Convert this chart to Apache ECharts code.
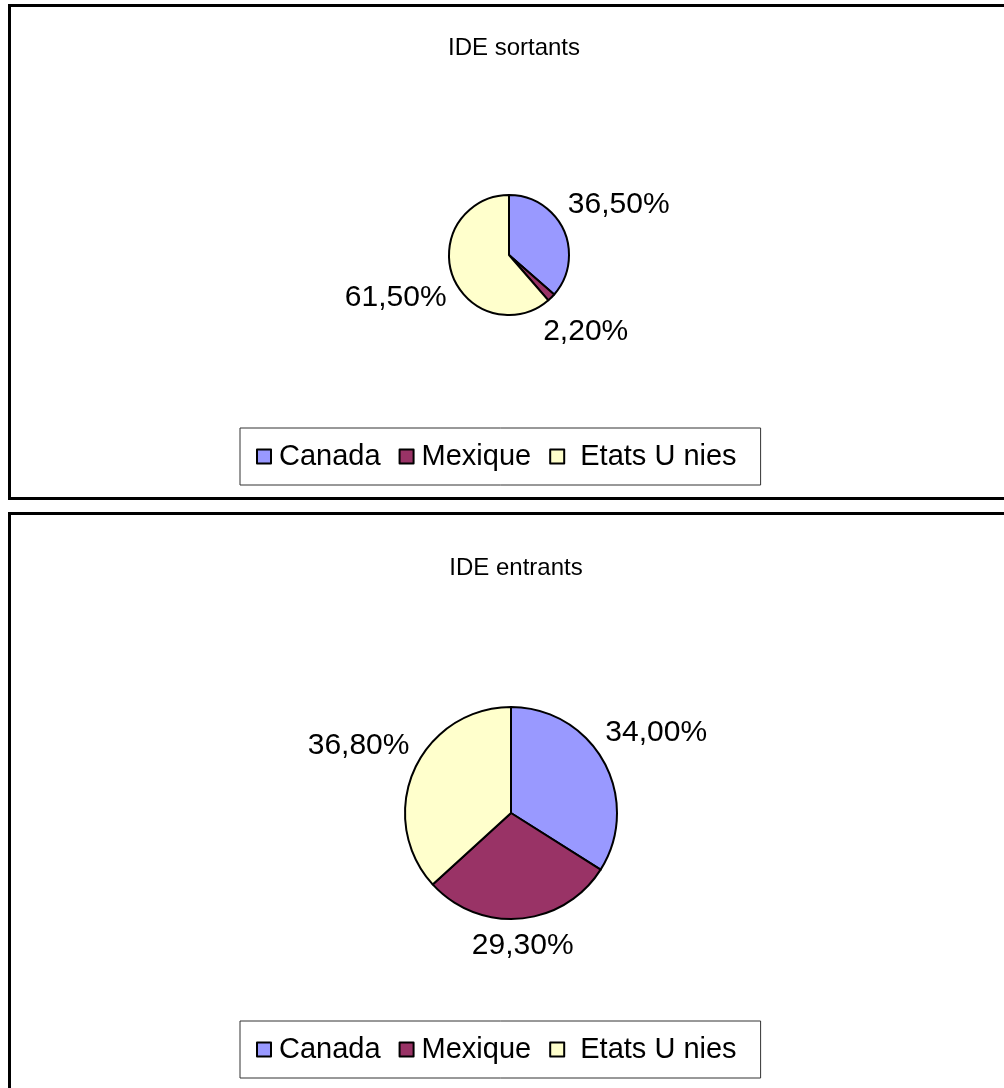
<!DOCTYPE html>
<html>
<head>
<meta charset="utf-8">
<script src="https://cdn.jsdelivr.net/npm/echarts@6/dist/echarts.min.js"></script>
<style>
  html, body { margin: 0; padding: 0; background: #fff; overflow: hidden; }
  body { width: 1004px; height: 1088px; position: relative; }
  .panel {
    position: absolute;
    left: 8px;
    width: 1010px;
    border: 3px solid #000;
    box-sizing: border-box;
    background: #fff;
  }
  .chart { width: 100%; height: 100%; }
</style>
</head>
<body>
<div class="panel" style="top:4px;height:496px;"><div id="chartSortants" class="chart"></div></div>
<div class="panel" style="top:512px;height:600px;"><div id="chartEntrants" class="chart"></div></div>
<script>
// données
const categories = ['Canada', 'Mexique', 'Etats U nies'];
const sortantsValues = [36.5, 2.2, 61.5];
const entrantsValues = [34.0, 29.3, 36.8];
const sliceColors = ['#9999FF', '#993366', '#FFFFCC'];

const FONT = '"Liberation Sans", Arial, sans-serif';

// format 36,50%
function pct(v) {
  return v.toFixed(2).replace('.', ',') + '%';
}

// place le label au bord de la part, comme Excel
function excelLabelLayout(values, cx, cy, r) {
  const total = values.reduce((a, b) => a + b, 0);
  return function (params) {
    let before = 0;
    for (let i = 0; i < params.dataIndex; i++) before += values[i];
    const mid = (before + values[params.dataIndex] / 2) / total * Math.PI * 2;
    const dx = Math.sin(mid);
    const dy = -Math.cos(mid);
    const w = params.labelRect.width;
    const h = params.labelRect.height;
    const d = r + 8 + Math.abs(dx) * w / 2 + Math.abs(dy) * h / 2;
    return { x: cx + dx * d, y: cy + dy * d, align: 'center', verticalAlign: 'middle' };
  };
}

function buildOption(title, values, cfg) {
  return {
    animation: false,
    title: {
      text: title,
      left: cfg.cx,
      top: cfg.titleTop,
      textAlign: 'center',
      textStyle: { fontFamily: FONT, fontSize: 24, fontWeight: 'normal', color: '#000' }
    },
    legend: {
      data: categories,
      left: cfg.legendLeft,
      top: cfg.legendTop,
      orient: 'horizontal',
      icon: 'rect',
      itemWidth: 14,
      itemHeight: 14,
      itemGap: 18,
      padding: [14, 24, 14, 16],
      borderColor: '#333',
      borderWidth: 1,
      itemStyle: { borderColor: '#000', borderWidth: 2 },
      formatter: name => name === 'Etats U nies' ? ' ' + name : name,
      textStyle: { fontFamily: FONT, fontSize: 29, color: '#000', padding: [0, 0, 0, 3] }
    },
    series: [{
      type: 'pie',
      center: [cfg.cx, cfg.cy],
      radius: cfg.r,
      startAngle: 90,
      clockwise: true,
      avoidLabelOverlap: false,
      label: {
        show: true,
        position: 'outside',
        formatter: p => pct(p.value),
        fontFamily: FONT,
        fontSize: 30,
        color: '#000'
      },
      labelLine: { show: false },
      labelLayout: excelLabelLayout(values, cfg.cx, cfg.cy, cfg.r),
      itemStyle: { borderColor: '#000', borderWidth: 2 },
      emphasis: { disabled: true },
      data: categories.map((name, i) => ({
        name: name,
        value: values[i],
        itemStyle: { color: sliceColors[i] }
      }))
    }]
  };
}

const chartSortants = echarts.init(document.getElementById('chartSortants'));
chartSortants.setOption(buildOption('IDE sortants', sortantsValues, {
  cx: 498, cy: 248, r: 60, titleTop: 24, legendLeft: 229, legendTop: 421
}));

const chartEntrants = echarts.init(document.getElementById('chartEntrants'));
chartEntrants.setOption(buildOption('IDE entrants', entrantsValues, {
  cx: 500, cy: 298, r: 106, titleTop: 36, legendLeft: 229, legendTop: 506
}));
</script>
</body>
</html>
